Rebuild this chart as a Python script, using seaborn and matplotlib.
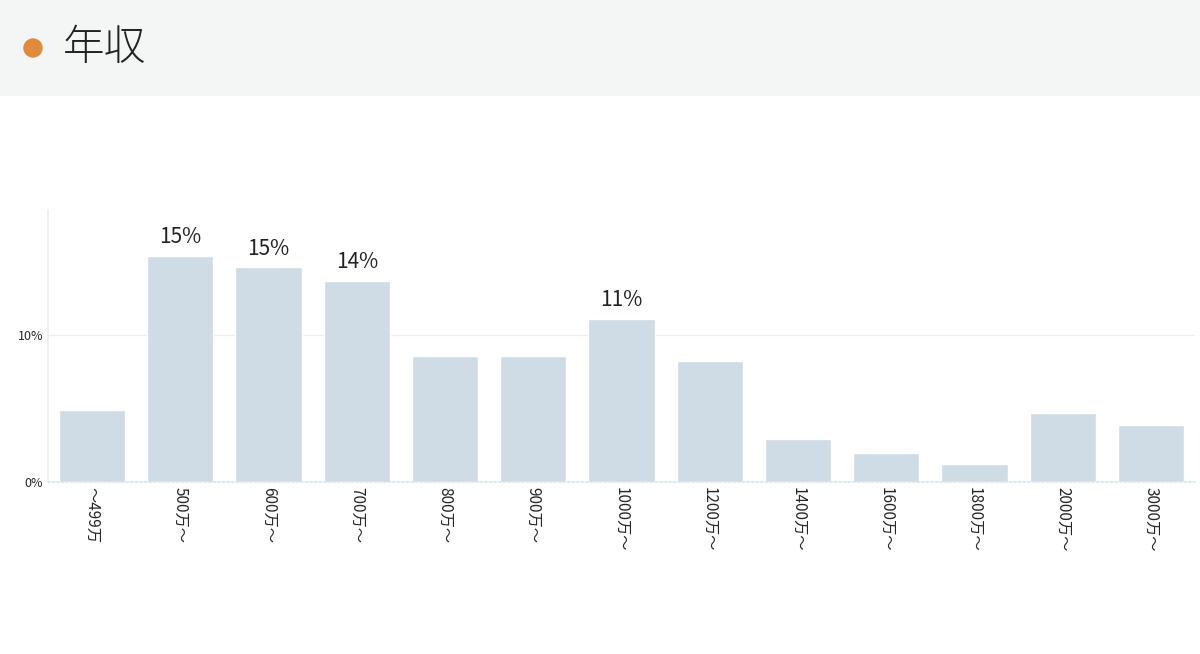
import matplotlib
matplotlib.use("Agg")
import matplotlib.pyplot as plt
import seaborn as sns
import pandas as pd
from matplotlib.patches import Rectangle, Ellipse

categories = ["～499万", "500万～", "600万～", "700万～", "800万～", "900万～", "1000万～",
              "1200万～", "1400万～", "1600万～", "1800万～", "2000万～", "3000万～"]
values = [4.9, 15.4, 14.6, 13.7, 8.6, 8.6, 11.1, 8.2, 2.9, 2.0, 1.2, 4.7, 3.9]
labels = ["", "15%", "15%", "14%", "", "", "11%", "", "", "", "", "", ""]
yticks = [0, 10]
ytick_labels = ["0%", "10%"]

sns.set_theme(style="white")
plt.rcParams['font.family'] = ['Noto Sans CJK JP', 'DejaVu Sans']

fig = plt.figure(figsize=(12, 6.54), dpi=100)
fig.patches.append(Rectangle((0, 1 - 95/654), 1, 95/654, transform=fig.transFigure,
                             color="#f4f6f5", zorder=0))
fig.patches.append(Ellipse((33/1200, 1 - 48/654), 18/1200, 18/654, transform=fig.transFigure,
                           color="#e08a3c", zorder=1))
fig.text(63/1200, 1 - 48/654, "年収", fontsize=30, va="center", color="#222222",
         fontweight="light")

ax = fig.add_axes([48/1200, 1 - 482/654, (1195-48)/1200, (482-210)/654])
df = pd.DataFrame({"cat": categories, "val": values})
sns.barplot(data=df, x="cat", y="val", color="#cfdbe5", saturation=1, width=0.75, ax=ax)
for i, (v, l) in enumerate(zip(values, labels)):
    if l:
        ax.text(i, v + 0.5, l, ha="center", va="bottom", fontsize=15, color="#222222")
ax.set_ylim(0, 18.5)
ax.set_xlim(-0.5, len(categories) - 0.5)
ax.set_yticks(yticks)
ax.set_yticklabels(ytick_labels, fontsize=9)
ax.set_xticks(range(len(categories)))
ax.set_xticklabels(categories, rotation=270, fontsize=11, va="top", ha="center")
ax.set_xlabel("")
ax.set_ylabel("")
ax.yaxis.grid(True, color="#eeeeee")
ax.set_axisbelow(True)
for s in ["top", "right"]:
    ax.spines[s].set_visible(False)
ax.spines["left"].set_color("#eeeeee")
ax.spines["bottom"].set_color("#dde6ee")
ax.spines["bottom"].set_linestyle(":")
ax.tick_params(axis="both", length=0)
fig.savefig("out.png", dpi=100)
